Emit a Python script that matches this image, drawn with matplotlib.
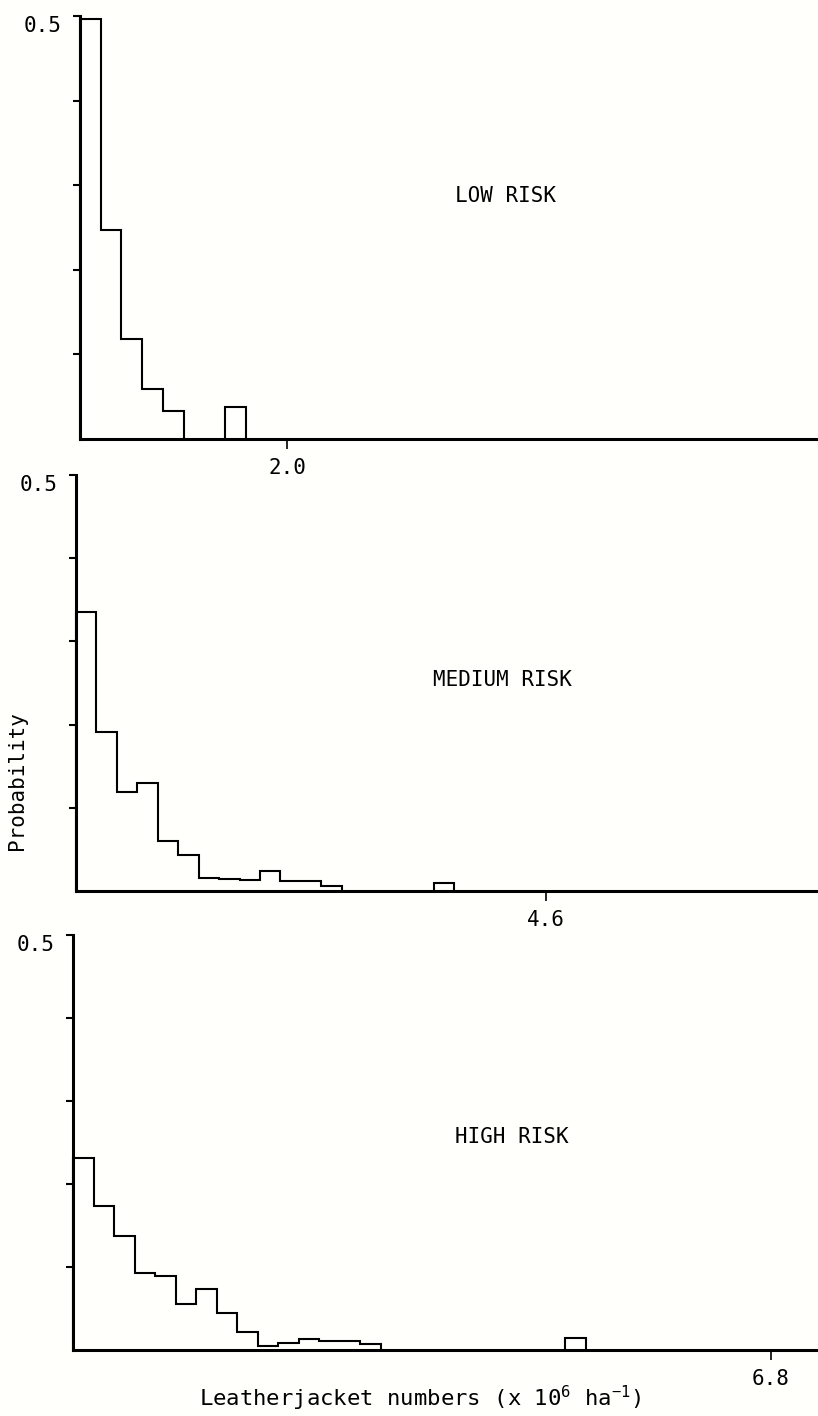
import numpy as np
import matplotlib.pyplot as plt

plt.rcParams['font.family'] = 'DejaVu Sans Mono'
plt.rcParams['mathtext.default'] = 'regular'

# probabilities per 0.2 class (x 10^6 ha^-1), starting at 0
bin_width = 0.2
low_prob = [0.497, 0.247, 0.118, 0.059, 0.033]
medium_prob = [0.335, 0.191, 0.119, 0.130, 0.060, 0.043, 0.016, 0.014,
               0.013, 0.024, 0.012, 0.012, 0.006]
high_prob = [0.231, 0.173, 0.137, 0.093, 0.089, 0.055, 0.073, 0.045,
             0.022, 0.005, 0.009, 0.013, 0.011, 0.011, 0.007]

# single isolated class further out in each panel
outlier_start = [1.4, 3.5, 4.8]
outlier_prob = [0.038, 0.010, 0.015]

risk_names = ['LOW RISK', 'MEDIUM RISK', 'HIGH RISK']
x_ticks = [2.0, 4.6, 6.8]
y_ticks = [0.1, 0.2, 0.3, 0.4, 0.5]

W, H = 818, 1416
fig = plt.figure(figsize=(W / 100, H / 100), dpi=100, facecolor='#fffffb')

# panel boxes in pixels: left, top, bottom, px per unit on x
boxes = [(80, 16, 439, 103.5), (76, 475, 891, 102.2), (73, 935, 1350, 102.6)]
name_pos = [(4.11, 0.287), (4.17, 0.254), (4.28, 0.257)]

for i, probs in enumerate([low_prob, medium_prob, high_prob]):
    left, top, bottom, scale = boxes[i]
    ax = fig.add_axes([left / W, 1 - bottom / H, 1 - left / W, (bottom - top) / H])
    ax.set_facecolor('none')

    edges = np.arange(len(probs) + 1) * bin_width
    ax.stairs(probs, edges, baseline=0, color='k', lw=1.5, clip_on=False)
    ax.stairs([outlier_prob[i]], [outlier_start[i], outlier_start[i] + bin_width],
              baseline=0, color='k', lw=1.5, clip_on=False)

    ax.set_xlim(0, (W - left) / scale)
    ax.set_ylim(0, 0.5)

    for s in ['top', 'right']:
        ax.spines[s].set_visible(False)
    for s in ['left', 'bottom']:
        ax.spines[s].set_linewidth(2.2)

    ax.set_yticks(y_ticks)
    ylabels = ax.set_yticklabels(['', '', '', '', '0.5'], fontsize=15)
    for lbl in ylabels:
        lbl.set_verticalalignment('top')
    ax.set_xticks([x_ticks[i]])
    ax.set_xticklabels(['%.1f' % x_ticks[i]], fontsize=15)
    ax.tick_params(axis='y', direction='out', length=5, width=1.5, pad=8)
    ax.tick_params(axis='x', direction='out', length=7, width=1.2, pad=7)

    ax.text(name_pos[i][0], name_pos[i][1], risk_names[i], fontsize=15,
            ha='center', va='center')

fig.text(17 / W, 1 - 781 / H, 'Probability', rotation=90, fontsize=15,
         ha='center', va='center')
fig.text(420 / W, 1 - 1398 / H, 'Leatherjacket numbers (x 10$^{6}$ ha$^{-1}$)',
         fontsize=16, ha='center', va='center')

fig.savefig('out.png', dpi=100, facecolor=fig.get_facecolor())
